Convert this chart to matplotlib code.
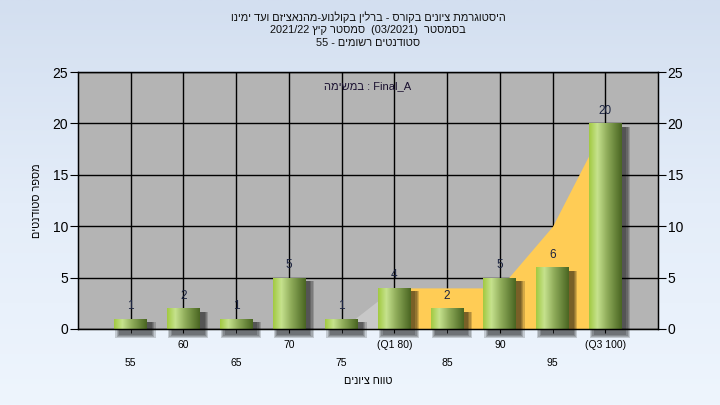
import re
import numpy as np
import matplotlib
matplotlib.use("Agg")
import matplotlib.pyplot as plt
from matplotlib.colors import LinearSegmentedColormap
from matplotlib.patches import Rectangle

plt.rcParams["font.family"] = ["Liberation Sans", "DejaVu Sans"]

# ─── Data ────────────────────────────────────────────────────────────────────
grades = [55, 60, 65, 70, 75, 80, 85, 90, 95, 100]
counts = [1, 2, 1, 5, 1, 4, 2, 5, 6, 20]
tick_text = ["55", "60", "65", "70", "75", "(Q1 80)", "85", "90", "95", "(Q3 100)"]

# quartile band (area behind the bars)
area_x = [75, 80, 85, 90, 95, 100]
area_y = [0, 4, 4, 4, 10, 20]
q1, q3 = 80, 100

title_lines = [
    "היסטוגרמת ציונים בקורס - ברלין בקולנוע-מהנאציזם ועד ימינו",
    "בסמסטר  (03/2021)  סמסטר קיץ 2021/22",
    "סטודנטים רשומים - 55",
]
note = "במשימה : Final_A"
xlabel = "טווח ציונים"
ylabel = "מספר סטודנטים"

MIRROR = {"(": ")", ")": "(", "[": "]", "]": "[", "<": ">", ">": "<"}


def vis(s):
    # matplotlib has no bidi: reorder to visual order (LTR paragraph)
    units = re.findall(r"\d+(?:[/.,:]\d+)*|.", s)

    def cls(u):
        if re.match(r"[\u0590-\u05FF]", u):
            return "R"
        if u[0].isdigit():
            return "EN"
        if re.match(r"[A-Za-z]", u):
            return "L"
        return "N"

    kinds = [cls(u) for u in units]
    out, i = [], 0
    while i < len(units):
        if kinds[i] != "R":
            out.append(units[i])
            i += 1
            continue
        j = i
        while j < len(units) and kinds[j] != "L":
            j += 1
        end = j
        while kinds[end - 1] == "N":
            end -= 1
        block = [MIRROR.get(u, u) for u in units[i:end]][::-1]
        out.extend(block)
        i = end
    return "".join(out)


fig = plt.figure(figsize=(7.2, 4.05), dpi=100)

# background gradient
bg = fig.add_axes([0, 0, 1, 1], zorder=-10)
bg_cmap = LinearSegmentedColormap.from_list("bg", ["#eef5fd", "#e4edf9", "#d3dff0"])
bg.imshow(np.linspace(0, 1, 256).reshape(-1, 1), cmap=bg_cmap, aspect="auto",
          extent=[0, 1, 0, 1], origin="lower")
bg.axis("off")

ax = fig.add_axes([78 / 720, 1 - 329 / 405, 580 / 720, 257 / 405])
ax.set_facecolor("#b4b4b4")

# area: grey before Q1, orange between Q1 and Q3
ax_arr = np.array(area_x)
ay_arr = np.array(area_y)
m1 = ax_arr <= q1
m2 = (ax_arr >= q1) & (ax_arr <= q3)
ax.fill_between(ax_arr[m1], 0, ay_arr[m1], color="#c8c8c8", lw=0, zorder=1.5)
ax.fill_between(ax_arr[m2], 0, ay_arr[m2], color="#ffcc55", lw=0, zorder=1.6)

# bars with shadow + cylinder gradient
w = 3.1
bar_cmap = LinearSegmentedColormap.from_list(
    "bar", [(0, "#a2ca42"), (0.25, "#c6e28e"), (0.55, "#8fac5a"), (1, "#4a6622")])
grad = np.linspace(0, 1, 64).reshape(1, -1)

for g, c in zip(grades, counts):
    for k in range(4):
        pad = k * 0.12
        ax.add_patch(Rectangle((g - w / 2 + 0.45 - pad, -0.55 - pad),
                               w + 2 * pad, c + 0.2 + pad, color="black",
                               alpha=0.17, lw=0, zorder=2.5, clip_on=False))

bars = ax.bar(grades, counts, width=w, color="#9cbf50", lw=0, zorder=3)
for b in bars:
    x0, y0 = b.get_x(), b.get_y()
    im = ax.imshow(grad, cmap=bar_cmap, aspect="auto", zorder=3.1,
                   extent=[x0, x0 + b.get_width(), y0, y0 + b.get_height()])
    im.set_clip_path(b)

for g, c in zip(grades, counts):
    ax.annotate(str(c), (g, c), xytext=(0, 9), textcoords="offset points",
                ha="center", va="center", fontsize=8.5, color="#1c2440", zorder=2)

ax.set_xlim(50, 105)
ax.set_ylim(0, 25)

# staggered x tick labels: major row / minor row
ax.set_xticks(grades[1::2])
ax.set_xticklabels(tick_text[1::2])
ax.set_xticks(grades[0::2], minor=True)
ax.set_xticklabels(tick_text[0::2], minor=True)
ax.tick_params(axis="x", which="major", length=3, pad=5, labelsize=7.5)
ax.tick_params(axis="x", which="minor", length=3, pad=18, labelsize=7.5)
ax.set_yticks(range(0, 26, 5))
ax.tick_params(axis="y", length=6, pad=1, labelsize=10)
ax.grid(True, which="both", color="black", lw=1, zorder=1)
ax.set_axisbelow(True)
for sp in ax.spines.values():
    sp.set_linewidth(1)
    sp.set_zorder(4)

ax2 = ax.twinx()
ax2.set_ylim(0, 25)
ax2.set_yticks(range(0, 26, 5))
ax2.tick_params(axis="y", length=6, pad=1, labelsize=10)

ax.set_xlabel(vis(xlabel), fontsize=7.8, labelpad=6)
ax.set_ylabel(vis(ylabel), fontsize=7.8, labelpad=8)

ax.text(0.5, 0.945, vis(note), transform=ax.transAxes, ha="center", va="center",
        fontsize=8, color="#1a1030", zorder=5)

for i, line in enumerate(title_lines):
    fig.text(368 / 720, 1 - (17 + 13 * i) / 405, vis(line), ha="center",
             va="center", fontsize=7.9, color="#101010")

fig.savefig("out.png", dpi=100)
